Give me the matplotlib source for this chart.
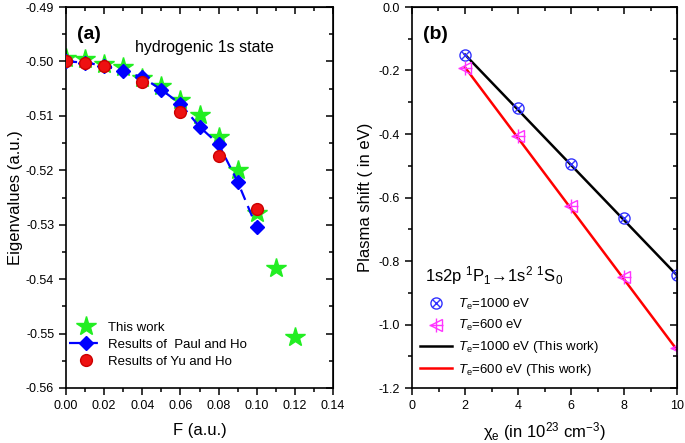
import matplotlib
matplotlib.use("Agg")
import matplotlib.pyplot as plt
import numpy as np
from matplotlib.legend_handler import HandlerTuple
from matplotlib.lines import Line2D
from matplotlib.ticker import MultipleLocator, FormatStrFormatter

plt.rcParams['font.family'] = ['Liberation Sans', 'DejaVu Sans']
plt.rcParams['mathtext.fontset'] = 'custom'
plt.rcParams['mathtext.rm'] = 'Liberation Sans'
plt.rcParams['mathtext.it'] = 'Liberation Sans:italic'

# Panel (a) data
F_this = [0.00, 0.01, 0.02, 0.03, 0.04, 0.05, 0.06, 0.07, 0.08, 0.09, 0.10, 0.11, 0.12]
E_this = [-0.4993, -0.4995, -0.5005, -0.5010, -0.5030, -0.5045, -0.5070, -0.5098, -0.5139,
          -0.5199, -0.5278, -0.5379, -0.5506]
F_paul = [0.00, 0.01, 0.02, 0.03, 0.04, 0.05, 0.06, 0.07, 0.08, 0.09, 0.10]
E_paul = [-0.5000, -0.5002, -0.5008, -0.5018, -0.5029, -0.5052, -0.5078, -0.5120, -0.5152,
          -0.5221, -0.5305]
F_yu = [0.00, 0.01, 0.02, 0.04, 0.06, 0.08, 0.10]
E_yu = [-0.5000, -0.5002, -0.5008, -0.5037, -0.5092, -0.5174, -0.5272]

# Panel (b) data
chi = [2, 4, 6, 8, 10]
shift_1000 = [-0.151, -0.319, -0.495, -0.665, -0.844]
shift_600 = [-0.193, -0.405, -0.626, -0.851, -1.075]
chi_line = [2, 10]
line_1000 = [-0.150, -0.845]
line_600 = [-0.190, -1.080]

fig = plt.figure(figsize=(6.85, 4.43), dpi=100)
axa = fig.add_axes([66/685, 1-388/443, (333-66)/685, 381/443])
axb = fig.add_axes([412/685, 1-388/443, (677-412)/685, 381/443])


def style(ax, xmaj, xmin, ymaj, ymin, xlim, ylim):
    for s in ax.spines.values():
        s.set_linewidth(1.2)
    ax.tick_params(which='both', direction='out', top=False, right=False, labelsize=9, width=1.1)
    ax.tick_params(which='major', length=5)
    ax.tick_params(which='minor', length=3)
    sx = ax.secondary_xaxis('top')
    sy = ax.secondary_yaxis('right')
    sx.set_xticks(np.arange(xlim[0], xlim[1] + 1e-9, xmaj))
    sx.set_xticks(np.arange(xlim[0], xlim[1] + 1e-9, xmin), minor=True)
    sy.set_yticks(np.arange(ylim[0], ylim[1] + 1e-9, ymaj))
    sy.set_yticks(np.arange(ylim[0], ylim[1] + 1e-9, ymin), minor=True)
    sx.tick_params(which='both', direction='in', labeltop=False, width=1.1)
    sx.tick_params(which='major', length=5)
    sx.tick_params(which='minor', length=3)
    sy.tick_params(which='both', direction='in', labelright=False, width=1.1)
    sy.tick_params(which='major', length=5)
    sy.tick_params(which='minor', length=3)


# ---- Panel (a)
axa.plot(F_paul, E_paul, color='#0000ff', ls=(0, (5, 3)), lw=1.6, marker='D', ms=7,
         mfc='#0000ff', mec='#0000ff', zorder=3, label='Results of  Paul and Ho')
axa.plot(F_this, E_this, ls='none', marker='*', ms=15, mfc='#22ee22', mec='#22ee22',
         zorder=2, label='This work')
axa.plot(F_yu, E_yu, ls='none', marker='o', ms=8.5, mfc='#ee1111', mec='#cc0000',
         zorder=4, label='Results of Yu and Ho')
axa.set_xlim(0, 0.14)
axa.set_ylim(-0.56, -0.49)
axa.xaxis.set_major_locator(MultipleLocator(0.02))
axa.xaxis.set_minor_locator(MultipleLocator(0.01))
axa.yaxis.set_major_locator(MultipleLocator(0.01))
axa.yaxis.set_minor_locator(MultipleLocator(0.005))
axa.xaxis.set_major_formatter(FormatStrFormatter('%.2f'))
axa.yaxis.set_major_formatter(FormatStrFormatter('%.2f'))
style(axa, 0.02, 0.01, 0.01, 0.005, (0, 0.14), (-0.56, -0.49))
axa.set_xlabel('F (a.u.)', fontsize=12, labelpad=8)
axa.set_ylabel('Eigenvalues (a.u.)', fontsize=12, labelpad=2)
axa.text(0.04, 0.95, '(a)', transform=axa.transAxes, fontsize=14, fontweight='bold', va='top')
axa.text(0.52, 0.895, 'hydrogenic 1s state', transform=axa.transAxes, fontsize=11.5,
         ha='center', va='center')
h, l = axa.get_legend_handles_labels()
order = [1, 0, 2]
axa.legend([h[i] for i in order], [l[i] for i in order], loc='upper left',
           bbox_to_anchor=(-0.02, 0.195), frameon=False, fontsize=9.5, handlelength=2.6,
           handletextpad=0.4, labelspacing=0.35, borderaxespad=0.2)

# ---- Panel (b)
axb.plot(chi_line, line_1000, color='black', lw=1.8, label=r'$T_{\rm e}$=1000 eV (This work)')
axb.plot(chi_line, line_600, color='#ff0000', lw=1.8, label=r'$T_{\rm e}$=600 eV (This work)')
axb.plot(chi, shift_1000, ls='none', marker='o', ms=8, mfc='none', mec='#3333ff', mew=1.0)
axb.plot(chi, shift_1000, ls='none', marker='x', ms=6, mec='#3333ff', mew=1.0)
axb.plot(chi, shift_600, ls='none', marker='<', ms=9, mfc='none', mec='#ff33ff', mew=1.0)
axb.plot(chi, shift_600, ls='none', marker='+', ms=10, mec='#ff33ff', mew=1.0)
axb.set_xlim(0, 10)
axb.set_ylim(-1.2, 0.0)
axb.xaxis.set_major_locator(MultipleLocator(2))
axb.xaxis.set_minor_locator(MultipleLocator(1))
axb.yaxis.set_major_locator(MultipleLocator(0.2))
axb.yaxis.set_minor_locator(MultipleLocator(0.1))
axb.yaxis.set_major_formatter(FormatStrFormatter('%.1f'))
style(axb, 2, 1, 0.2, 0.1, (0, 10), (-1.2, 0.0))
axb.set_xlabel(r'χ$_{\rm e}$ (in 10$^{23}$ cm$^{-3}$)', fontsize=12, labelpad=6)
axb.set_ylabel('Plasma shift ( in eV)', fontsize=12, labelpad=4)
axb.text(0.04, 0.95, '(b)', transform=axb.transAxes, fontsize=14, fontweight='bold', va='top')
axb.text(0.05, 0.295, r'1s2p $^1$P$_1$→1s$^2$ $^1$S$_0$', transform=axb.transAxes,
         fontsize=12, va='center')

h1000 = (Line2D([], [], ls='none', marker='o', ms=8, mfc='none', mec='#3333ff'),
         Line2D([], [], ls='none', marker='x', ms=6, mec='#3333ff'))
h600 = (Line2D([], [], ls='none', marker='<', ms=9, mfc='none', mec='#ff33ff'),
        Line2D([], [], ls='none', marker='+', ms=10, mec='#ff33ff'))
hl, ll = axb.get_legend_handles_labels()
axb.legend([h1000, h600] + hl, [r'$T_{\rm e}$=1000 eV', r'$T_{\rm e}$=600 eV'] + ll,
           handler_map={tuple: HandlerTuple(ndivide=1)},
           loc='upper left', bbox_to_anchor=(0.0, 0.26), frameon=False, fontsize=9.5,
           handlelength=2.4, handletextpad=0.5, labelspacing=0.47, borderaxespad=0.2)

fig.savefig('out.png', dpi=100)
